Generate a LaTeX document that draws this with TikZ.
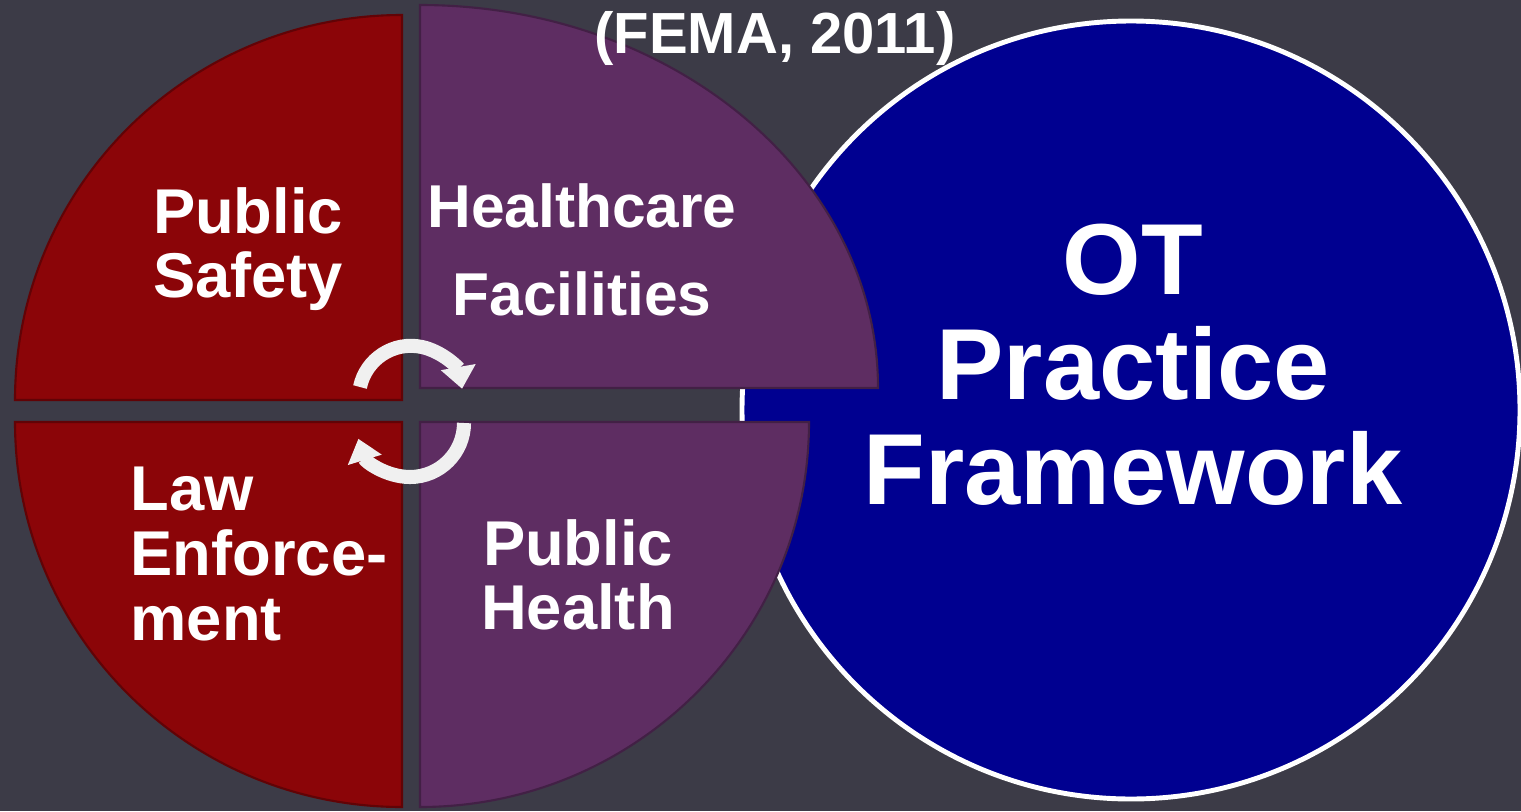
\documentclass[tikz,border=0pt]{standalone}
\usepackage{fontspec}
\setmainfont{Liberation Sans}
\usetikzlibrary{arrows.meta}
\definecolor{slate}{RGB}{60,59,71}
\definecolor{quadred}{RGB}{139,5,8}
\definecolor{quadpurple}{RGB}{94,45,98}
\definecolor{otblue}{RGB}{0,0,144}
\begin{document}
\begin{tikzpicture}[x=0.01cm,y=0.01cm,
	quad/.style={fill=#1,draw=#1!70!black,line width=0.6pt},
	sectortext/.style={text=white,align=center,inner sep=0pt,font=\bfseries\fontsize{18}{18.4}\selectfont},
	turn/.style={draw=white!88!gray,line width=4pt,-{Triangle[length=0.22cm,width=0.34cm]}}]
	\fill[slate] (0,0) rectangle (1521,811);
	\useasboundingbox (0,0) rectangle (1521,811);
	\draw[fill=otblue,draw=white,line width=1.4pt] (1131,401) circle[radius=389];
	\filldraw[quad=quadred] (402,411) -- (402,796) arc[start angle=90,end angle=180,x radius=387,y radius=385] -- cycle;
	\filldraw[quad=quadpurple] (420,423) -- (878,423) arc[start angle=0,end angle=90,x radius=458,y radius=383] -- cycle;
	\filldraw[quad=quadred] (402,389) -- (15,389) arc[start angle=180,end angle=270,x radius=387,y radius=385] -- cycle;
	\filldraw[quad=quadpurple] (420,389) -- (809,389) arc[start angle=0,end angle=-90,x radius=389,y radius=385] -- cycle;
	\node[sectortext] (safety) at (248,562) {Public\\Safety};
	\node[sectortext,font=\bfseries\fontsize{17.2}{17.6}\selectfont] (care) at (582,561) {Healthcare\\[0.26cm]Facilities};
	\node[sectortext,align=left,anchor=west] (law) at (130,257) {Law\\Enforce-\\ment};
	\node[sectortext] (health) at (578,236) {Public\\Health};
	\node[sectortext,font=\bfseries\fontsize{28.7}{29.9}\selectfont] (ot) at (1133,446) {OT\\Practice\\Framework};
	\node[sectortext,font=\bfseries\fontsize{16.5}{17}\selectfont] (fema) at (775,773) {(FEMA, 2011)};
	\draw[turn] (360,424) arc[start angle=168,end angle=10,radius=52];
	\draw[turn] (464,388) arc[start angle=0,end angle=-163,radius=54];
\end{tikzpicture}
\end{document}
